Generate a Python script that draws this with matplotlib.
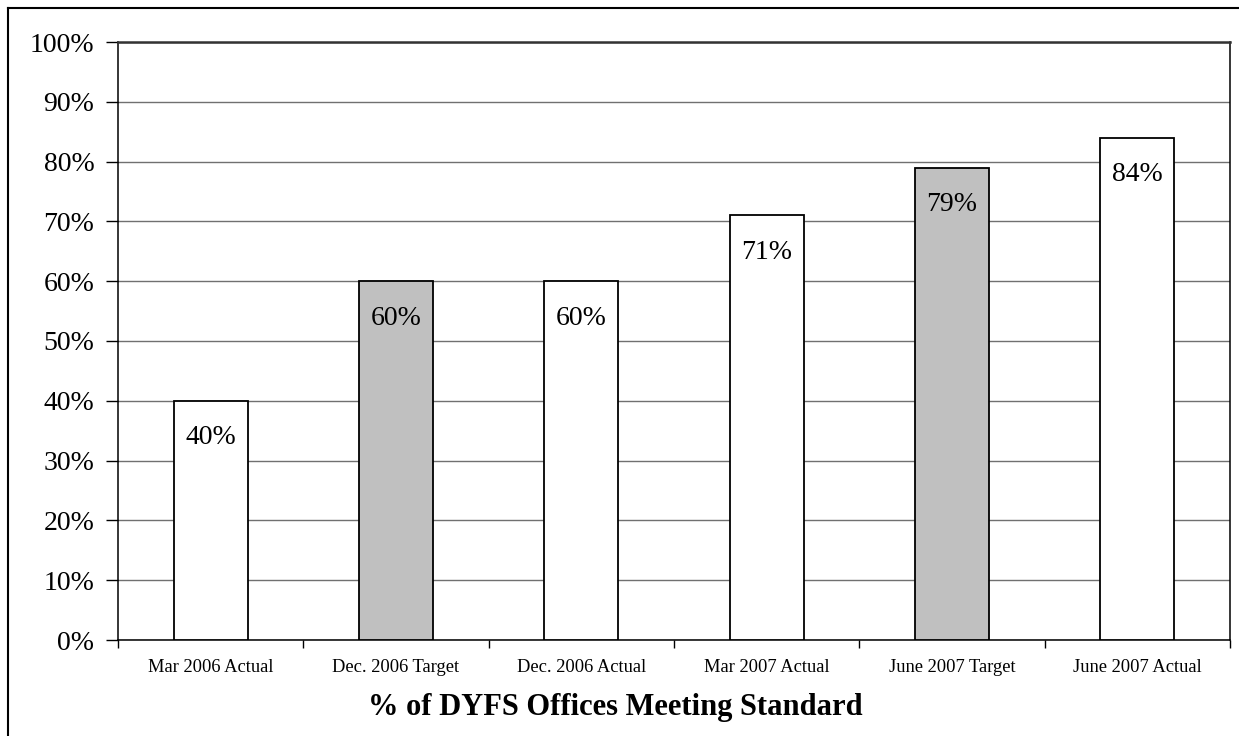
import matplotlib

matplotlib.use("Agg")
import matplotlib.pyplot as plt
from matplotlib.lines import Line2D

categories = ["Mar 2006 Actual", "Dec. 2006 Target", "Dec. 2006 Actual",
              "Mar 2007 Actual", "June 2007 Target", "June 2007 Actual"]
values = [40, 60, 60, 71, 79, 84]
is_target = [False, True, False, False, True, False]

_GRAY = "#c0c0c0"

plt.rcParams["font.family"] = ["Liberation Serif", "DejaVu Serif"]

fig = plt.figure(figsize=(12.39, 7.36), dpi=100)
ax = fig.add_axes([118 / 1239, 96 / 736, 1112 / 1239, 598 / 736])

x = list(range(len(categories)))
colors = [_GRAY if t else "white" for t in is_target]
ax.bar(x, values, width=0.4, color=colors, edgecolor="black", linewidth=1.3, zorder=3)
for xi, v in zip(x, values):
    ax.text(xi, v - 6.2, f"{v}%", ha="center", va="center", fontsize=20, zorder=4)

ax.set_xlim(-0.5, len(categories) - 0.5)
ax.set_ylim(0, 100)
ax.set_yticks(range(0, 101, 10), [f"{t}%" for t in range(0, 101, 10)], fontsize=20)
ax.set_xticks(x, categories, fontsize=13.3)
ax.set_xticks([i - 0.5 for i in range(len(categories) + 1)], minor=True)
ax.tick_params(axis="x", which="major", length=0, pad=14)
ax.tick_params(axis="x", which="minor", length=6, width=1, direction="out")
ax.tick_params(axis="y", length=9, width=1, direction="out", pad=8)
ax.yaxis.grid(True, color="#707070", lw=1.0, zorder=0)
for s in ax.spines.values():
    s.set_color("black")
    s.set_linewidth(1.1)
ax.spines["top"].set_color("#333333")
ax.spines["top"].set_linewidth(1.8)

# axis title sits centred on the whole chart, not the plot area
fig.text(615 / 1239, 1 - 707 / 736, "% of DYFS Offices Meeting Standard",
         ha="center", va="center", fontsize=22, fontweight="bold")

# outer chart frame
fig.add_artist(Line2D([8 / 1239, 8 / 1239], [0, 1 - 8 / 736], color="black", lw=1.5,
                      transform=fig.transFigure))
fig.add_artist(Line2D([8 / 1239, 1], [1 - 8 / 736, 1 - 8 / 736], color="black", lw=1.5,
                      transform=fig.transFigure))

fig.savefig("out.png", dpi=100)
plt.close(fig)
